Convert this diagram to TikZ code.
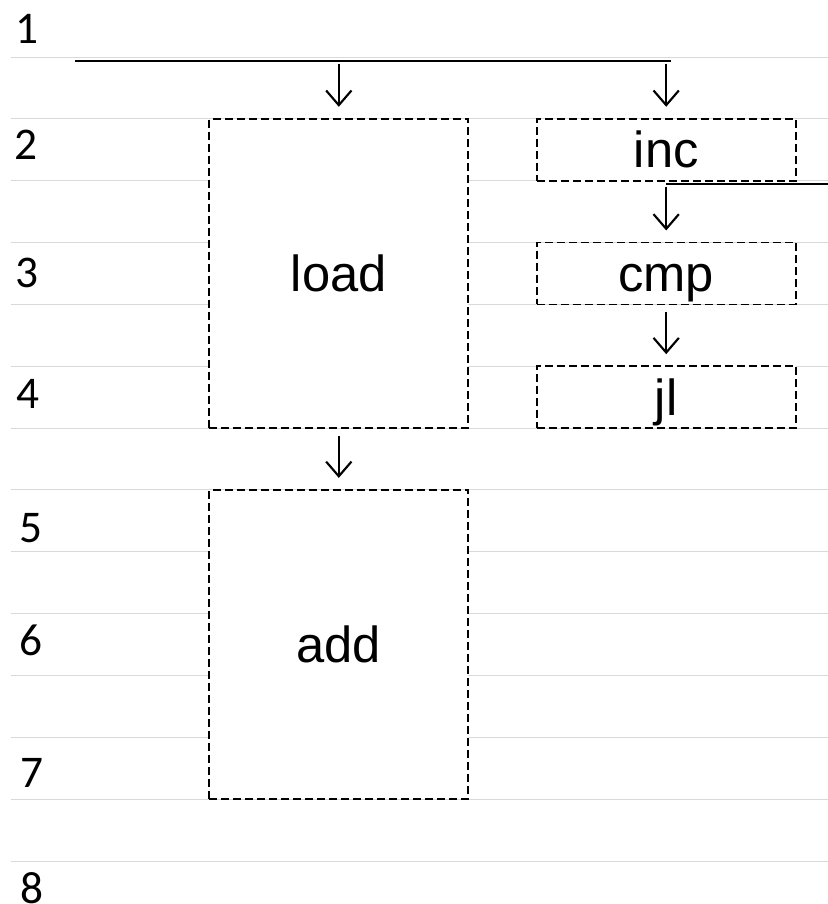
\documentclass[tikz,border=0pt]{standalone}
\usepackage{fontspec}
\setmainfont{Liberation Sans}
\newfontfamily\rowfont{Carlito}
\usetikzlibrary{arrows.meta}

\tikzset{
  rule/.style={draw=black!15, line width=0.75pt},
  rownum/.style={anchor=base, inner sep=0pt, font=\rowfont\fontsize{34}{34}\selectfont},
  op/.style={draw, fill=white, line width=1.35pt, dash pattern=on 6pt off 3pt,
    minimum width=194.25pt, inner sep=0pt, text height=31pt, text depth=4pt,
    font=\fontsize{38}{38}\selectfont},
  tall/.style={op, minimum height=231.9pt},
  short/.style={op, minimum height=46.4pt},
  wire/.style={line width=1.4pt},
  flow/.style={wire, -{Straight Barb[length=11pt,width=19pt,line width=1.6pt]},
    shorten >=8.4pt, shorten <=5.3pt}
}

\begin{document}
\begin{tikzpicture}[x=0.75pt,y=0.75pt,yscale=-1,xscale=1]
\useasboundingbox (0,0) rectangle (828,904);

% row rules
\foreach \k in {0,...,13}
  \draw[rule] (11,{57+61.85*\k}) -- (828,{57+61.85*\k});

% Text Node: row numbers
\foreach \n/\x/\y in {1/27/43,2/26/159,3/27/287,4/28/408,5/31/542,6/31/655,7/32/787,8/32/903}
  \node[rownum] (row\n) at (\x,\y) {\n};

%Shape: Rectangle
\node[tall] (load) at (338.8,273.5) {load};
\node[tall] (add) at (338.8,644.6) {add};
\node[short] (inc) at (666.2,149.8) {inc};
\node[short] (cmp) at (666.2,273.5) {cmp};
\node[short] (jl) at (666.2,397.2) {jl};

%Straight Lines
\coordinate (busW) at (75,61);
\coordinate (busE) at (670.7,61);
\coordinate (tapE) at (828,184);
\draw[wire] (busW) -- (busE);
\draw[wire] (inc.south |- tapE) -- (tapE);

\draw[flow, shorten <=2pt] (load.north |- busW) -- (load.north);
\draw[flow, shorten <=2pt] (inc.north |- busW) -- (inc.north);
\draw[flow, shorten <=2pt] (inc.south |- tapE) -- (cmp.north);
\draw[flow] (cmp) -- (jl);
\draw[flow] (load) -- (add);

\end{tikzpicture}
\end{document}
